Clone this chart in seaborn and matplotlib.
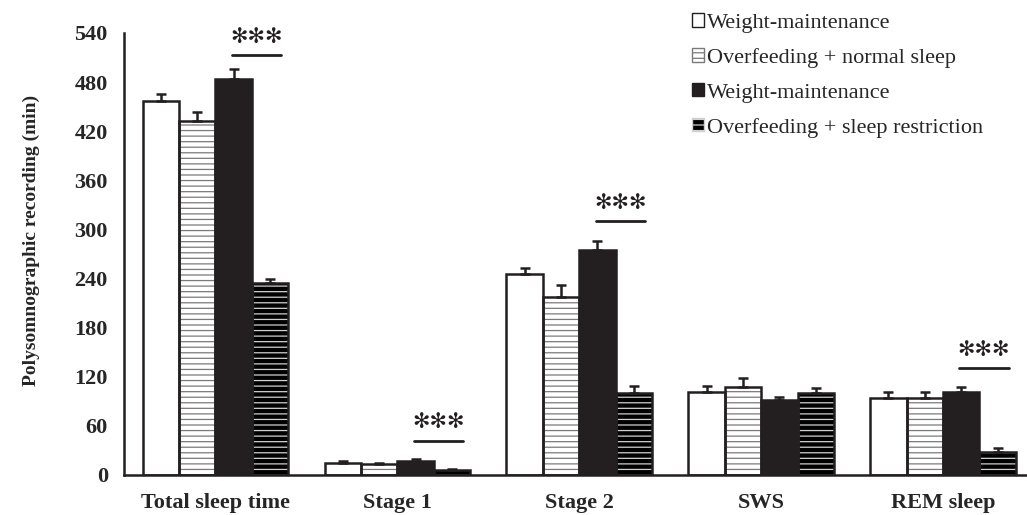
import numpy as np
import pandas as pd
import seaborn as sns
import matplotlib.pyplot as plt
from matplotlib.patches import Rectangle, Patch

# Sleep stage categories and group labels
categories = ['Total sleep time', 'Stage 1', 'Stage 2', 'SWS', 'REM sleep']
groups = ['WM normal', 'OF normal', 'WM restricted', 'OF restricted']
legend_labels = ['Weight-maintenance', 'Overfeeding + normal sleep',
                 'Weight-maintenance', 'Overfeeding + sleep restriction']

# Means (min)
wm_normal = [457, 15, 246, 101, 94]
of_normal = [433, 13, 218, 108, 94]
wm_restricted = [484, 17.5, 275, 91, 101]
of_restricted = [235, 5.5, 100, 100, 28.5]

# Upper error bars (SEM)
wm_normal_err = [8, 2, 7, 8, 7]
of_normal_err = [11, 1.5, 14, 11, 7]
wm_restricted_err = [12, 2, 11, 4, 6]
of_restricted_err = [5, 1.5, 9, 6, 5]

# Significance markers: category index and line height
sig_categories = [0, 1, 2, 4]
sig_line_y = [513, 42, 310, 131]

values = [wm_normal, of_normal, wm_restricted, of_restricted]
errors = [wm_normal_err, of_normal_err, wm_restricted_err, of_restricted_err]

df = pd.DataFrame({
    'category': np.tile(categories, len(groups)),
    'group': np.repeat(groups, len(categories)),
    'value': np.concatenate(values),
    'err': np.concatenate(errors),
})

sns.set_style('white')
plt.rcParams['font.family'] = ['Liberation Serif', 'DejaVu Serif']
plt.rcParams['hatch.linewidth'] = 0.9

fig = plt.figure(figsize=(10.27, 5.15), dpi=100)
ax = fig.add_axes([0.1212, 0.0777, 0.8856, 0.8583])

sns.barplot(data=df, x='category', y='value', hue='group', order=categories,
            hue_order=groups, errorbar=None, width=0.8, ax=ax, legend=False)

# Bar styles: face colour, hatch, hatch colour
styles = [('white', '', 'black'),
          ('white', '---', '#7a7a7a'),
          ('#231f20', '', '#231f20'),
          ('black', '---', '#d0d0d0')]

for container, (fc, hatch, hc), err in zip(ax.containers, styles, errors):
    xs, tops = [], []
    for bar in container:
        bar.set_facecolor(fc)
        bar.set_hatch(hatch)
        bar.set_edgecolor(hc)
        bar.set_linewidth(0)
        x0, y0 = bar.get_x(), bar.get_y()
        w, h = bar.get_width(), bar.get_height()
        ax.add_patch(Rectangle((x0, y0), w, h, fill=False, edgecolor='#231f20',
                               linewidth=1.8, zorder=3))
        xs.append(x0 + w / 2)
        tops.append(h)
    ax.errorbar(xs, tops, yerr=[np.zeros(len(err)), err], fmt='none',
                ecolor='#231f20', elinewidth=1.8, capsize=3.5, capthick=1.8, zorder=2)

# Significance lines and stars
for idx, ly in zip(sig_categories, sig_line_y):
    ax.plot([idx + 0.09, idx + 0.36], [ly, ly], color='#231f20', lw=2)
    ax.text(idx + 0.225, ly + 10, '\u273b\u273b\u273b', ha='center', va='bottom',
            fontsize=15, color='#231f20', family='DejaVu Sans')

ax.set_xlim(-0.5, 4.5)
ax.set_ylim(0, 540)
ax.set_yticks(np.arange(0, 541, 60))
ax.set_xticks(np.arange(0.5, 4.5, 1))
ax.set_xticklabels([])
ax.set_xticks(range(len(categories)), minor=True)
ax.set_xticklabels(categories, minor=True, fontsize=16, fontweight='bold')
ax.tick_params(axis='x', which='minor', length=0, pad=13)
ax.tick_params(axis='x', which='major', length=5, width=1.8, direction='out', color='#231f20')
ax.tick_params(axis='y', length=4, width=1.8, pad=8, direction='out', color='#231f20')
for lbl in ax.get_yticklabels():
    lbl.set_fontsize(16)
    lbl.set_fontweight('bold')

ax.set_xlabel('')
ax.set_ylabel('Polysomnographic recording (min)', fontsize=14, fontweight='bold')
ax.yaxis.set_label_coords(-0.093, 0.53)

for side in ['top', 'right']:
    ax.spines[side].set_visible(False)
for side in ['left', 'bottom']:
    ax.spines[side].set_linewidth(1.8)
    ax.spines[side].set_color('#231f20')

# Legend with small square markers
handles = [Patch(facecolor=fc, hatch=hatch, edgecolor='#231f20' if hatch == '' else hc,
                 linewidth=1) for fc, hatch, hc in styles]
fig.legend(handles, legend_labels, loc='upper left', bbox_to_anchor=(0.661, 1.0),
           frameon=False, fontsize=16, handlelength=0.55, handleheight=0.55,
           handletextpad=0.1, labelspacing=0.68, borderaxespad=0.2)

plt.savefig('out.png', dpi=100)
plt.close()
